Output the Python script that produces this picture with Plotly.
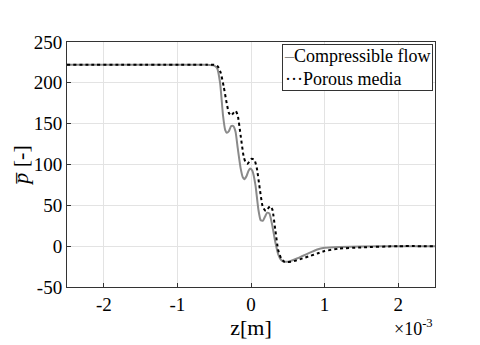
import plotly.graph_objects as go

# z in units of 1e-3 m
z_comp = [-2.5, -0.6, -0.5, -0.46, -0.42, -0.38, -0.35, -0.33, -0.30, -0.27, -0.24, -0.21, -0.18,
          -0.14, -0.11, -0.09, -0.06, -0.03, -0.01, 0.02, 0.06, 0.10, 0.13, 0.16, 0.19, 0.22, 0.25,
          0.29, 0.33, 0.37, 0.41, 0.45, 0.5, 0.6, 0.7, 0.8, 0.9, 1.0, 1.2, 1.5, 2.0, 2.5]
p_comp = [222, 222, 221, 218, 200, 160, 142, 139, 141, 147, 147, 140, 120,
          95, 84, 82, 86, 93, 95, 92, 75, 45, 32, 31, 36, 41, 40,
          25, 5, -10, -17, -19, -19, -16, -12, -8, -4, -2, -1, -0.5, 0, 0]

z_por = [-2.5, -0.6, -0.5, -0.45, -0.41, -0.37, -0.33, -0.30, -0.27, -0.24, -0.21, -0.18, -0.14,
         -0.10, -0.07, -0.045, -0.02, 0.01, 0.045, 0.08, 0.12, 0.16, 0.2, 0.23, 0.26, 0.29, 0.33,
         0.37, 0.41, 0.45, 0.5, 0.6, 0.7, 0.8, 0.9, 1.0, 1.2, 1.5, 2.0, 2.5]
p_por = [222, 222, 222, 220, 212, 195, 175, 163, 160, 163, 166, 160, 135,
         110, 102, 101, 104, 107, 106, 95, 70, 48, 43, 46, 49, 45, 20,
         -5, -15, -19, -19.5, -18, -15, -12, -9, -6, -3, -1.5, 0, 0]

series_names = ["Compressible flow", "Porous media"]
x_ticks = [-2, -1, 0, 1, 2]
y_ticks = [-50, 0, 50, 100, 150, 200, 250]

FONT = "Times New Roman, Liberation Serif, serif"
GRAY = "#8a8a8a"

fig = go.Figure()
fig.add_trace(go.Scatter(x=z_comp, y=p_comp, mode="lines", name=series_names[0],
                         line=dict(color=GRAY, width=2, shape="spline", smoothing=0.5)))
fig.add_trace(go.Scatter(x=z_por, y=p_por, mode="lines", name=series_names[1],
                         line=dict(color="black", width=2, dash="dot", shape="spline", smoothing=0.5)))

axis_common = dict(showgrid=True, gridcolor="#e3e3e3", gridwidth=1, zeroline=False,
                   showline=True, linecolor="#333333", linewidth=1, mirror=True,
                   ticks="inside", ticklen=4, tickcolor="#333333", automargin=False,
                   tickfont=dict(family=FONT, size=19, color="black"))

fig.update_layout(
    width=480, height=345,
    margin=dict(l=59, r=53, t=34, b=66),
    paper_bgcolor="white", plot_bgcolor="white",
    font=dict(family=FONT, color="black"),
    showlegend=False,
    xaxis=dict(range=[-2.5, 2.5], tickvals=x_ticks, ticktext=[str(v) for v in x_ticks],
               title=dict(text="z[m]", font=dict(family=FONT, size=22), standoff=2), **axis_common),
    yaxis=dict(range=[-50, 250], tickvals=y_ticks, ticktext=[str(v) for v in y_ticks],
               title=dict(text="<i>p\u0305</i> [-]", font=dict(family=FONT, size=22), standoff=6), **axis_common),
)

# MATLAB-style compact legend box
legend_text = (f"<span style='color:{GRAY}'>\u2013</span>{series_names[0]}<br>"
               f"<span style='color:black'>\u00b7\u00b7\u00b7</span>{series_names[1]}")
fig.add_annotation(text=legend_text, xref="paper", yref="paper", x=0.995, y=0.99,
                   xanchor="right", yanchor="top", showarrow=False, align="left",
                   bgcolor="white", bordercolor="#333333", borderwidth=1, borderpad=1,
                   font=dict(family=FONT, size=18, color="black"))

fig.add_annotation(text="\u00d710<sup>-3</sup>", xref="paper", yref="paper", x=1.0, y=-0.165,
                   xanchor="right", yanchor="middle", showarrow=False,
                   font=dict(family=FONT, size=18, color="black"))

fig.write_html("out.html")
